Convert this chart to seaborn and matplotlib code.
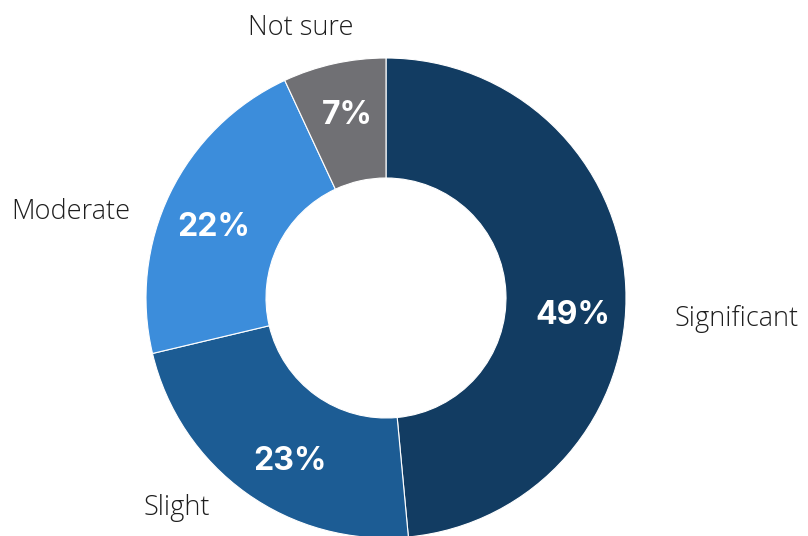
import matplotlib
matplotlib.use("Agg")
import matplotlib.pyplot as plt
import seaborn as sns
import numpy as np

sns.set_theme(style="white")
plt.rcParams['font.family'] = ['Lato', 'DejaVu Sans']

categories = ["Significant", "Slight", "Moderate", "Not sure"]
values = [49, 23, 22, 7]
pct_labels = ["49%", "23%", "22%", "7%"]
colors = ["#123c62", "#1c5c94", "#3c8ddb", "#707074"]

# layout: outer label positions (pixels) and alignment
label_pos = [(675, 319, "left"), (210, 508, "right"), (130, 212, "right"), (301, 28, "center")]
pct_pos = [(573, 315), (290, 461), (214, 228), (347, 115)]

W, H = 808, 536
fig = plt.figure(figsize=(W / 100, H / 100), dpi=100)
ax = fig.add_axes([0, 0, 1, 1])

cx, cy, R = 386, H - 298, 240
wedges, _ = ax.pie(values, colors=colors, startangle=90, counterclock=False,
                   center=(cx, cy), radius=R, frame=True,
                   wedgeprops=dict(width=R * 0.5, edgecolor="white", linewidth=0.8))
ax.set_xlim(0, W)
ax.set_ylim(0, H)
ax.set_aspect("equal")
ax.axis("off")

for (x, y), txt in zip(pct_pos, pct_labels):
    ax.text(x, H - y, txt, color="white", family=["Inter", "Lato", "DejaVu Sans"],
            fontsize=23, fontweight="bold", ha="center", va="center")

for name, (x, y, ha) in zip(categories, label_pos):
    ax.text(x, H - y, name, fontsize=19.5, fontweight="light", color="#1e1e1e",
            family=["Open Sans", "Lato", "DejaVu Sans"], ha=ha, va="center")

fig.savefig("out.png", dpi=100)
